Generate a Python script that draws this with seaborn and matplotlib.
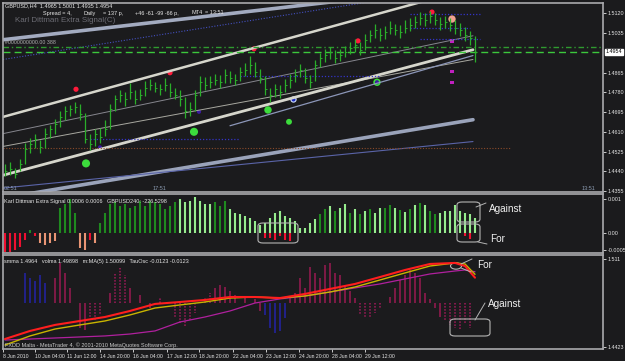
import matplotlib
matplotlib.use("Agg")
import matplotlib.pyplot as plt
from matplotlib.patches import FancyBboxPatch, Circle
from matplotlib.lines import Line2D
import seaborn as sns

sns.set_theme(style="dark")
plt.rcParams['font.family'] = ['Liberation Sans', 'DejaVu Sans']
plt.rcParams['axes.unicode_minus'] = False
FONT = ['Liberation Sans', 'DejaVu Sans']

# ---------------- data ----------------
bar_close = [1.4441, 1.4450, 1.4429, 1.4471, 1.4535, 1.4557, 1.4578, 1.4544, 1.4599, 1.4621,
             1.4642, 1.4672, 1.4698, 1.4706, 1.4715, 1.4685, 1.4578, 1.4557, 1.4599, 1.4587,
             1.4621, 1.4706, 1.4749, 1.4770, 1.4749, 1.4783, 1.4749, 1.4770, 1.4800, 1.4813,
             1.4800, 1.4792, 1.4813, 1.4783, 1.4770, 1.4749, 1.4698, 1.4706, 1.4770, 1.4826,
             1.4813, 1.4826, 1.4834, 1.4826, 1.4856, 1.4843, 1.4834, 1.4868, 1.4877, 1.4898,
             1.4868, 1.4843, 1.4792, 1.4770, 1.4792, 1.4783, 1.4813, 1.4834, 1.4856, 1.4877,
             1.4843, 1.4826, 1.4898, 1.4928, 1.4941, 1.4954, 1.4928, 1.4941, 1.4954, 1.4971,
             1.4984, 1.4962, 1.5005, 1.5026, 1.5048, 1.5027, 1.5040, 1.5057, 1.5048, 1.5040,
             1.5057, 1.5070, 1.5082, 1.5099, 1.5091, 1.5108, 1.5091, 1.5074, 1.5082, 1.5070,
             1.5057, 1.5048, 1.5027, 1.5014, 1.4954]
bar_high = [1.4470, 1.4480, 1.4455, 1.4495, 1.4560, 1.4585, 1.4600, 1.4575, 1.4625, 1.4640,
            1.4665, 1.4700, 1.4720, 1.4725, 1.4740, 1.4730, 1.4690, 1.4600, 1.4620, 1.4625,
            1.4660, 1.4730, 1.4770, 1.4790, 1.4780, 1.4820, 1.4790, 1.4795, 1.4830, 1.4835,
            1.4825, 1.4815, 1.4840, 1.4820, 1.4800, 1.4790, 1.4760, 1.4740, 1.4790, 1.4850,
            1.4845, 1.4850, 1.4860, 1.4855, 1.4880, 1.4870, 1.4860, 1.4890, 1.4905, 1.4935,
            1.4910, 1.4880, 1.4850, 1.4800, 1.4815, 1.4810, 1.4835, 1.4860, 1.4880, 1.4900,
            1.4885, 1.4855, 1.4920, 1.4950, 1.4965, 1.4975, 1.4960, 1.4965, 1.4980, 1.4995,
            1.5010, 1.4995, 1.5030, 1.5050, 1.5075, 1.5055, 1.5065, 1.5085, 1.5075, 1.5070,
            1.5090, 1.5100, 1.5110, 1.5125, 1.5120, 1.5130, 1.5120, 1.5105, 1.5110, 1.5100,
            1.5090, 1.5080, 1.5060, 1.5045, 1.5020]
bar_low = [1.4420, 1.4425, 1.4410, 1.4440, 1.4470, 1.4520, 1.4540, 1.4520, 1.4540, 1.4585,
           1.4600, 1.4630, 1.4660, 1.4680, 1.4690, 1.4660, 1.4560, 1.4530, 1.4550, 1.4560,
           1.4590, 1.4620, 1.4700, 1.4740, 1.4720, 1.4750, 1.4730, 1.4745, 1.4765, 1.4790,
           1.4780, 1.4770, 1.4785, 1.4760, 1.4750, 1.4720, 1.4670, 1.4680, 1.4700, 1.4765,
           1.4790, 1.4800, 1.4810, 1.4800, 1.4820, 1.4820, 1.4810, 1.4830, 1.4850, 1.4860,
           1.4845, 1.4820, 1.4770, 1.4740, 1.4760, 1.4755, 1.4780, 1.4800, 1.4825, 1.4845,
           1.4820, 1.4800, 1.4830, 1.4890, 1.4910, 1.4925, 1.4905, 1.4915, 1.4930, 1.4945,
           1.4955, 1.4940, 1.4960, 1.4995, 1.5015, 1.5000, 1.5010, 1.5030, 1.5025, 1.5015,
           1.5035, 1.5045, 1.5055, 1.5070, 1.5065, 1.5080, 1.5070, 1.5050, 1.5055, 1.5045,
           1.5030, 1.5020, 1.5000, 1.4985, 1.4910]

price_ticks = [1.5120, 1.5035, 1.4865, 1.4780, 1.4695, 1.4610, 1.4525, 1.4440, 1.4355]
last_price = 1.4954

# trend / channel lines: (bar index pair, price pair)
line_outer_top_x = [-0.4, 80.0];  line_outer_top_y = [1.5006, 1.5205]
line_upper_x = [-0.4, 95.0];      line_upper_y = [1.4674, 1.5238]
line_lower_x = [-0.4, 93.6];      line_lower_y = [1.4423, 1.4963]
line_lower2_x = [45.0, 93.6];     line_lower2_y = [1.4636, 1.4938]
line_bottom_x = [-0.4, 93.6];     line_bottom_y = [1.4325, 1.4662]
line_mid1_x = [-0.4, 93.6];       line_mid1_y = [1.4547, 1.4921]
line_mid2_x = [-0.4, 93.6];       line_mid2_y = [1.4602, 1.5023]
line_low3_x = [-0.4, 93.6];       line_low3_y = [1.4368, 1.4568]
line_dot_x = [-0.4, 75.0];        line_dot_y = [1.4921, 1.5176]

levels_blue = [1.4581, 1.4849, 1.5116, 1.5057, 1.5010]
levels_blue_from = [17, 47, 81, 81, 83]
levels_blue_to = [47, 75, 95, 93, 95]
level_brown = 1.4542
level_green = 1.4976

red_dot_x = [14.2, 33.0, 49.8, 70.6, 85.4]
red_dot_y = [1.4793, 1.4864, 1.4967, 1.5001, 1.5125]
green_dot_x = [16.2, 37.8, 52.6, 74.4, 56.8]
green_dot_y = [1.4474, 1.4610, 1.4704, 1.4823, 1.4653]
green_dot_size = [30, 30, 26, 26, 18]
navy_dot_x = [19.0, 38.8, 74.4]
navy_dot_y = [1.4543, 1.4696, 1.4823]
ring_dot_x = [57.6]; ring_dot_y = [1.4751]
salmon_dot_x = [89.4]; salmon_dot_y = [1.5095]
magenta_x = [89.4, 89.4, 89.4]; magenta_y = [1.5001, 1.4870, 1.4823]

# Karl Dittman Extra Signal (x 1e-4)
sig_pos = [0, 0, 0, 0, 0, 1.0, 0, 0, 0, 0,
           0, 7.5, 8.5, 10.0, 6.0, 0, 0, 0, 0, 3.0,
           6.0, 8.5, 9.0, 8.0, 8.5, 7.5, 8.0, 9.5, 8.0, 9.5,
           9.0, 8.5, 7.0, 8.0, 9.0, 10.0, 9.0, 9.5, 10.5, 9.5,
           8.5, 8.5, 9.0, 8.0, 9.5, 7.0, 6.0, 5.5, 5.0, 4.5,
           3.5, 2.5, 3.0, 4.5, 6.0, 6.5, 5.0, 4.5, 3.5, 1.5,
           1.5, 3.0, 4.0, 5.5, 7.0, 8.0, 6.5, 7.5, 8.5, 6.0,
           7.0, 5.5, 6.5, 7.0, 6.0, 7.3, 7.5, 8.2, 7.5, 6.8,
           6.3, 7.2, 8.2, 8.8, 8.2, 6.6, 5.5, 6.0, 6.5, 6.6,
           8.2, 6.6, 6.0, 5.5, 4.5]
sig_pos_kind = (['g'] * 35 + ['l'] * 7 + ['g'] * 3 + ['l'] * 18 +
                ['g', 'g', 'l', 'g', 'l', 'l', 'g', 'l', 'g', 'l', 'g', 'l',
                 'l', 'g', 'g', 'l', 'g', 'l', 'g', 'l', 'g', 'l', 'g', 'g',
                 'l', 'l', 'l', 'l', 'l', 'l', 'l', 'l'])
sig_neg = [-5.5, -5.5, -5.0, -4.0, -2.0, 0, -1.0, -3.0, -3.5, -3.0,
           -2.5, 0, 0, 0, 0, -4.5, -5.0, -2.0, -3.0, 0,
           0, 0, 0, 0, 0, 0, 0, 0, 0, 0,
           0, 0, 0, 0, 0, 0, 0, 0, 0, 0,
           0, 0, 0, 0, 0, 0, 0, 0, 0, 0,
           0, 0, -1.5, -1.5, -2.0, -1.0, -2.0, -2.5, 0, 0,
           0, 0, 0, 0, 0, 0, 0, 0, 0, 0,
           0, 0, 0, 0, 0, 0, 0, 0, 0, 0,
           0, 0, 0, 0, 0, 0, 0, 0, 0, 0,
           0, 0, -0.8, -1.8, 0]
sig_neg_kind = ['r'] * 7 + ['s'] * 4 + ['r'] * 4 + ['s', 's', 'r', 's'] + ['r'] * 76

# bottom window: moving averages (sampled bars) and TauOsc histogram
ma_bar = [0, 5, 10, 15, 20, 25, 30, 35, 40, 45, 50, 55, 60, 65, 70, 75, 80, 85, 90, 92, 94]
smma = [1.4485, 1.4548, 1.4595, 1.4626, 1.4657, 1.4704, 1.4759, 1.4774, 1.4790, 1.4813, 1.4813,
        1.4805, 1.4837, 1.4876, 1.4915, 1.4969, 1.5024, 1.5071, 1.5079, 1.5055, 1.4964]
volma = [1.4438, 1.4509, 1.4563, 1.4595, 1.4626, 1.4673, 1.4727, 1.4751, 1.4774, 1.4805, 1.4813,
         1.4805, 1.4821, 1.4852, 1.4891, 1.4946, 1.5001, 1.5055, 1.5079, 1.5071, 1.4990]
mma5 = [1.4477, 1.4485, 1.4493, 1.4501, 1.4509, 1.4524, 1.4548, 1.4618, 1.4657, 1.4704, 1.4766,
        1.4798, 1.4821, 1.4852, 1.4884, 1.4915, 1.4954, 1.4993, 1.5016, 1.5024, 1.5010]
osc = [0, 0, 0, 0, 30, 25, 22, 28, 20, 0,
       25, 40, 30, 15, 0, -25, -27, -15, -18, -12,
       0, 10, 30, 35, 28, 15, 0, 8, 0, -5,
       0, 6, 0, 0, -15, -20, -24, -18, -10, 0,
       6, 10, 15, 18, 16, 12, 8, 0, 5, 0,
       4, -8, -12, -25, -30, -28, -15, 5, 10, 25,
       15, 36, 30, 25, 38, 40, 30, 28, 18, 12,
       5, -12, -14, -14, -10, -5, 0, 6, 15, 23,
       28, 33, 30, 25, 10, 4, -5, -14, -18, -22,
       -25, -27, -20, -25, 0]
osc_kind = ['m'] * 95
for _i in [4, 5, 6, 7, 8, 52, 53, 54, 55, 56]:
    osc_kind[_i] = 'b'
for _i in [17, 18, 19, 22, 23, 24, 31, 34, 35, 36, 37, 38, 40, 41,
           71, 72, 73, 74, 75, 88, 89, 90, 91, 92, 93]:
    osc_kind[_i] = 'd'

date_labels = ['8 Jun 2010', '10 Jun 04:00', '11 Jun 12:00', '14 Jun 20:00', '16 Jun 04:00',
               '17 Jun 12:00', '18 Jun 20:00', '22 Jun 04:00', '23 Jun 12:00', '24 Jun 20:00',
               '28 Jun 04:00', '29 Jun 12:00']

# ---------------- figure ----------------
W, H = 625, 361
BG = '#1b1b1d'
FRAME = '#a9a9ad'
TXT = '#e6e6e6'
TICK_FS = 3.9


def fx(x):
    return x / W


def fy(y):
    return 1 - y / H


fig = plt.figure(figsize=(W / 100, H / 100), dpi=100, facecolor=BG)


def style_right(ax):
    ax.yaxis.tick_right()
    ax.yaxis.set_label_position('right')
    ax.tick_params(axis='y', left=False, labelleft=False, right=True, labelright=True,
                   colors=TXT, labelsize=TICK_FS, length=2, width=0.6, pad=1.2, direction='out')


def make_ax(top, bottom):
    ax = fig.add_axes([fx(3), fy(bottom), fx(603) - fx(3), fy(top) - fy(bottom)])
    ax.set_facecolor(BG)
    for s in ax.spines.values():
        s.set_color(FRAME)
        s.set_linewidth(1.2)
    ax.set_xlim(-0.4, 119.6)
    ax.grid(False)
    style_right(ax)
    ax.tick_params(axis='x', bottom=False, labelbottom=False)
    return ax


ax1 = make_ax(3, 192)
ax2 = make_ax(194, 253)
ax3 = make_ax(255, 349)

# ---- main price window ----
ax1.set_ylim(1.4351, 1.5164)
xs = list(range(len(bar_close)))

sns.lineplot(x=line_bottom_x, y=line_bottom_y, ax=ax1, color='#9aa3ba', lw=2.6)
sns.lineplot(x=line_low3_x, y=line_low3_y, ax=ax1, color='#5a64a8', lw=0.8)
sns.lineplot(x=line_mid1_x, y=line_mid1_y, ax=ax1, color='#a8a8a0', lw=0.7)
sns.lineplot(x=line_mid2_x, y=line_mid2_y, ax=ax1, color='#86868e', lw=0.7)
sns.lineplot(x=line_lower2_x, y=line_lower2_y, ax=ax1, color='#8c96b8', lw=0.9)
sns.lineplot(x=line_lower_x, y=line_lower_y, ax=ax1, color='#d6d6cc', lw=2.0)
sns.lineplot(x=line_upper_x, y=line_upper_y, ax=ax1, color='#d6d6cc', lw=1.8)
sns.lineplot(x=line_outer_top_x, y=line_outer_top_y, ax=ax1, color='#a3abc0', lw=2.6)
ax1.plot(line_dot_x, line_dot_y, color='#4450c0', lw=0.8, ls=(0, (1, 1.5)))

ax1.hlines(level_brown, -0.4, 101, color='#8a4a2a', lw=0.8, ls=(0, (1, 1.5)))
ax1.hlines(levels_blue, levels_blue_from, levels_blue_to, color='#3434c8', lw=0.9, ls=(0, (1, 1.5)))
ax1.axhline(level_green, color='#2f9a2f', lw=1.0, ls=(0, (4, 2, 1, 2)))
ax1.axhline(last_price, color='#3cc83c', lw=1.0, ls=(0, (5, 3)))

ax1.vlines(xs, bar_low, bar_high, color='#2aae2a', lw=0.9)
ax1.hlines(bar_close, [x for x in xs], [x + 0.45 for x in xs], color='#2aae2a', lw=0.7)

sns.scatterplot(x=green_dot_x, y=green_dot_y, ax=ax1, color='#3cdc3c',
                size=green_dot_size, sizes=(18, 34), legend=False, edgecolor='none')
sns.scatterplot(x=red_dot_x, y=red_dot_y, ax=ax1, color='#ff1a3a', s=14, edgecolor='none')
sns.scatterplot(x=navy_dot_x, y=navy_dot_y, ax=ax1, color='#3a1aa0', s=9, edgecolor='none')
sns.scatterplot(x=ring_dot_x, y=ring_dot_y, ax=ax1, color='#1a2ac0', s=14, edgecolor='#d0e0ff', linewidth=0.8)
sns.scatterplot(x=salmon_dot_x, y=salmon_dot_y, ax=ax1, color='#f0a090', s=28, edgecolor='none')
sns.scatterplot(x=magenta_x, y=magenta_y, ax=ax1, color='#c020c0', marker='s', s=6, edgecolor='none')

ax1.set_yticks(price_ticks)
ax1.set_yticklabels([f'{v:.4f}' for v in price_ticks])
ax1.set_xlabel(''); ax1.set_ylabel('')
ax1.text(1.004, last_price, f'{last_price:.4f}', transform=ax1.get_yaxis_transform(),
         fontsize=TICK_FS, color='black', va='center', ha='left',
         bbox=dict(boxstyle='square,pad=0.12', fc='white', ec='white'))

# ---- signal window ----
ax2.set_ylim(-5.9, 11.5)
pos_colors = {'g': '#1f8a1f', 'l': '#96ec8e'}
neg_colors = {'r': '#ee1030', 's': '#e89474'}
ax2.vlines(xs, 0, sig_pos, colors=[pos_colors[k] for k in sig_pos_kind], lw=1.5)
ax2.vlines(xs, 0, sig_neg, colors=[neg_colors[k] for k in sig_neg_kind], lw=1.5)
ax2.set_yticks([10, 0, -5])
ax2.set_yticklabels(['0.001', '0.00', '-0.0005'])

# ---- bottom window ----
ax3b = ax3.twinx()
ax3b.set_ylim(-46, 48)
ax3b.set_yticks([])
ax3b.tick_params(axis='y', left=False, right=False, labelleft=False, labelright=False)
for s in ax3b.spines.values():
    s.set_visible(False)
osc_colors = {'m': '#9a1a52', 'd': '#a01a5a', 'b': '#2424a8'}
for k, style in [('m', '-'), ('b', '-'), ('d', (0, (1, 1)))]:
    sel = [i for i in xs if osc_kind[i] == k]
    ax3b.vlines(sel, 0, [osc[i] for i in sel], colors=osc_colors[k], lw=1.1, linestyles=[style])
ax3b.set_zorder(1)
ax3.set_zorder(2)
ax3.patch.set_visible(False)
sns.lineplot(x=ma_bar, y=mma5, ax=ax3, color='#b0209e', lw=0.9)
sns.lineplot(x=ma_bar, y=volma, ax=ax3, color='#c8b400', lw=1.0)
sns.lineplot(x=ma_bar, y=smma, ax=ax3, color='#ff1e1e', lw=1.5)
ax3.set_ylim(1.4407, 1.5141)
ax3.set_xlim(-0.4, 119.6)
ax3.set_yticks([1.511, 1.4423])
ax3.set_yticklabels(['1.511', '1.4423'])
style_right(ax3)
ax3.set_xlabel(''); ax3.set_ylabel('')
date_pos = [-0.4, 6.0, 12.4, 19.0, 25.6, 32.4, 38.8, 45.6, 52.2, 58.8, 65.4, 72.0]
ax3.set_xticks(date_pos)
ax3.set_xticklabels(date_labels)
ax3.tick_params(axis='x', bottom=True, labelbottom=True, colors=TXT, labelsize=3.7,
                length=2, width=0.6, pad=1.5)
for lab in ax3.get_xticklabels():
    lab.set_ha('left')

# ---------------- texts ----------------
def ftext(x, y, s, size=4.0, color=TXT, **kw):
    fig.text(fx(x), fy(y), s, fontsize=size, color=color, va='center', ha='left',
             family=FONT, **kw)


ftext(5, 6, 'GBPUSD,H4  1.4965 1.5001 1.4935 1.4954')
ftext(43, 13, 'Spread = 4,')
ftext(83, 13, 'Daily')
ftext(103, 13, '= 137 p,')
ftext(135, 13, '+46 -61 -99 -66 p,')
ftext(192, 13, 'MT4')
ftext(205, 13, '= 13:51')
ftext(15, 20, 'Karl Dittman Extra Signal(C)', size=5.8, color='#6c6c74')
ftext(5, 43, '#0000000000.00 388', size=3.8, color='#b0b0b0')
ftext(4, 188, '02:51', size=4.0, color='#8a9ab0')
ftext(153, 188, '17:51', size=4.0, color='#8a9ab0')
ftext(582, 188, '13:51', size=4.0, color='#8a9ab0')
ftext(4, 201, 'Karl Dittman Extra Signal 0.0006 0.0006   GBPUSD240: -226.5298')
ftext(4, 262, 'smma 1.4964   volma 1.49898   m:MA(5) 1.50099   TauOsc -0.0123 -0.0123')
ftext(5, 345, 'FXDD Malta - MetaTrader 4, \u00a9 2001-2010 MetaQuotes Software Corp.', color='#c8c8c8')

# annotations
ANN = '#b4b4b4'


def rbox(x0, y0, x1, y1):
    fig.patches.append(FancyBboxPatch((fx(x0), fy(y1)), fx(x1) - fx(x0), fy(y0) - fy(y1),
                                      boxstyle='round,pad=0,rounding_size=0.008',
                                      transform=fig.transFigure, fc='none', ec=ANN, lw=0.8))


def seg(x0, y0, x1, y1):
    fig.lines.append(Line2D([fx(x0), fx(x1)], [fy(y0), fy(y1)], transform=fig.transFigure,
                            color=ANN, lw=0.7))


rbox(258, 223, 298, 243)
rbox(457, 202, 480, 222)
rbox(457, 224, 480, 242)
seg(476, 207, 486, 203)
seg(478, 242, 487, 244)
ftext(489, 209, 'Against', size=7.2, color='#f0f0f0')
ftext(490, 239, 'For', size=7.2, color='#f0f0f0')

fig.patches.append(Circle((fx(456), fy(266)), 5.5 / W, transform=fig.transFigure,
                          fc='none', ec=ANN, lw=0.8))
seg(461, 264, 472, 259)
seg(461, 268, 471, 272)
ftext(477, 265, 'For', size=7.2, color='#f0f0f0')
seg(485, 303, 475, 320)
rbox(450, 319, 490, 336)
ftext(488, 304, 'Against', size=7.2, color='#f0f0f0')

fig.savefig('out.png', dpi=100, facecolor=BG)
